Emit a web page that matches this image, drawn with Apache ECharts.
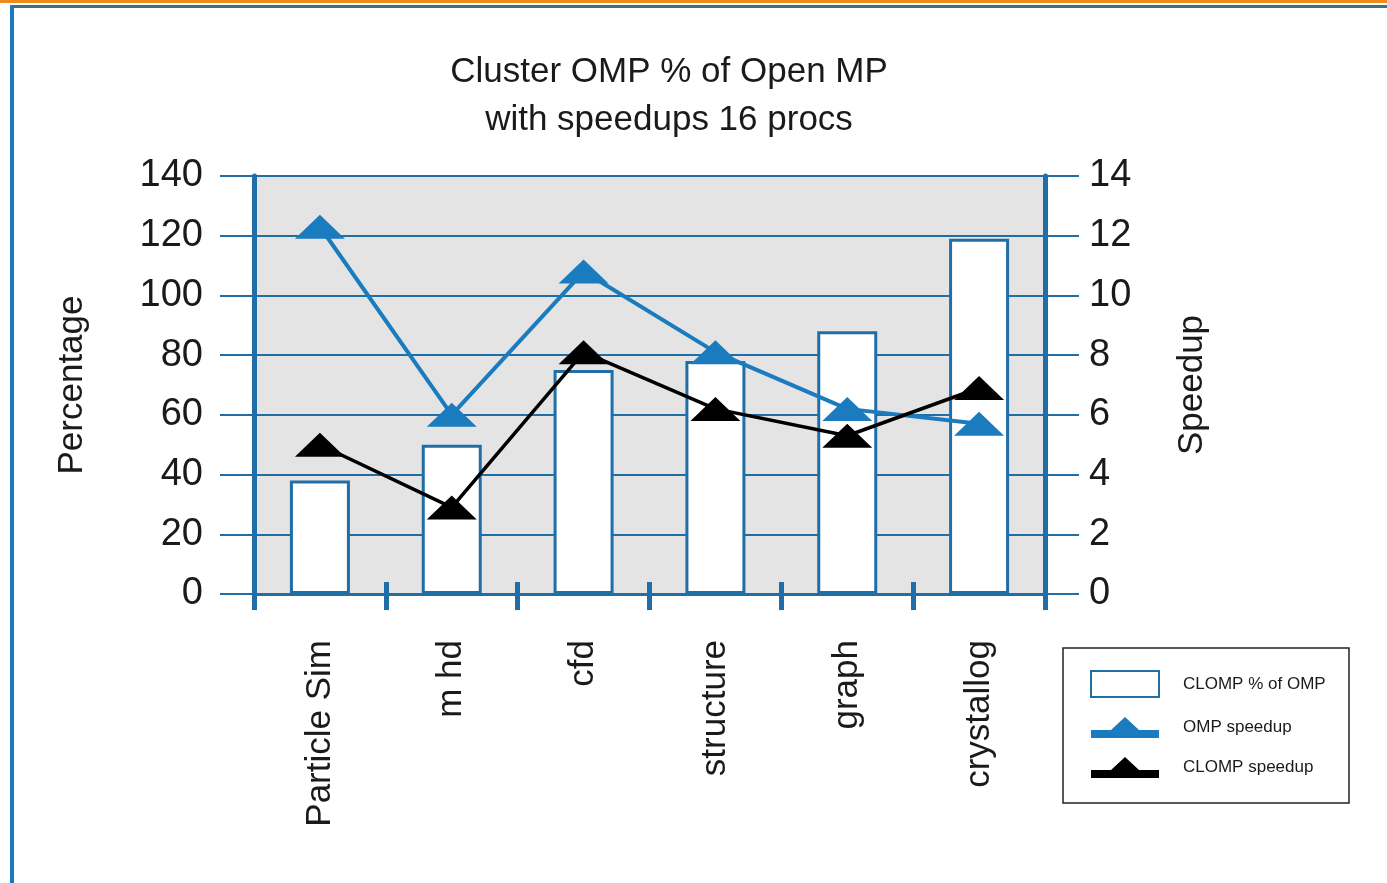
<!DOCTYPE html>
<html>
<head>
<meta charset="utf-8">
<script src="https://cdn.jsdelivr.net/npm/echarts@6/dist/echarts.min.js"></script>
<style>
  html, body { margin: 0; padding: 0; background: #fff; }
  #chart { width: 1387px; height: 883px; }
</style>
</head>
<body>
<div id="chart"></div>
<script>
const categories = ["Particle Sim", "m hd", "cfd", "structure", "graph", "crystallog"];
const clompPctOfOmp = [38, 50, 75, 78, 88, 119];
const ompSpeedup = [12.3, 6.0, 10.8, 8.1, 6.2, 5.7];
const clompSpeedup = [5.0, 2.9, 8.1, 6.2, 5.3, 6.9];
const seriesNames = ["CLOMP % of OMP", "OMP speedup", "CLOMP speedup"];

const axisBlue = "#1f6fa6";
const lineBlue = "#1a7bbf";
const textColor = "#1a1a1a";
const fontFamily = "'Liberation Sans', Arial, sans-serif";
// thick line with a triangle on it, for the legend
const lineIcon = "path://M0,13 L20,13 L34,0 L48,13 L68,13 L68,21 L0,21 Z";

const chart = echarts.init(document.getElementById("chart"));

const options = {
  animation: false,
  textStyle: { fontFamily: fontFamily, color: textColor },
  title: {
    text: "Cluster OMP % of Open MP\nwith speedups 16 procs",
    left: 664,
    textAlign: "center",
    top: 43,
    textStyle: {
      fontSize: 35,
      fontWeight: "normal",
      lineHeight: 48,
      color: textColor,
      fontFamily: fontFamily,
    },
  },
  graphic: [
    // frame decoration
    { type: "rect", shape: { x: 0, y: 0, width: 1387, height: 3 }, style: { fill: "#ef8a1e" } },
    { type: "rect", shape: { x: 10, y: 5, width: 1377, height: 3 }, style: { fill: "#3d7182" } },
    { type: "rect", shape: { x: 10, y: 5, width: 4, height: 878 }, style: { fill: "#1a7abf" } },
    // legend box
    {
      type: "rect",
      shape: { x: 1063, y: 648, width: 286, height: 155 },
      style: { fill: "#fff", stroke: "#222", lineWidth: 1.5 },
      z: -1,
    },
  ],
  legend: {
    orient: "vertical",
    left: 1090,
    top: 670,
    padding: 0,
    itemWidth: 68,
    itemHeight: 26,
    itemGap: 19,
    textStyle: { fontSize: 17, color: textColor, padding: [0, 0, 0, 19] },
    data: [
      { name: seriesNames[0], icon: "rect" },
      { name: seriesNames[1], icon: lineIcon, itemStyle: { color: lineBlue, borderWidth: 0 } },
      { name: seriesNames[2], icon: lineIcon, itemStyle: { color: "#000", borderWidth: 0 } },
    ],
  },
  grid: {
    left: 254,
    right: 342,
    top: 176,
    bottom: 289,
    show: true,
    backgroundColor: "#e4e4e4",
    borderWidth: 0,
  },
  xAxis: [
    {
      type: "category",
      data: categories,
      position: "bottom",
      axisLine: { lineStyle: { color: axisBlue, width: 3 } },
      axisTick: { show: true, length: 16, lineStyle: { color: axisBlue, width: 5 } },
      axisLabel: { rotate: 90, fontSize: 35, margin: 46, color: textColor, interval: 0 },
    },
    {
      // inner half of the crossing ticks
      type: "category",
      data: categories,
      position: "bottom",
      axisLine: { show: false },
      axisTick: { show: true, inside: true, length: 12, lineStyle: { color: axisBlue, width: 5 } },
      axisLabel: { show: false },
    },
  ],
  yAxis: [
    {
      type: "value",
      min: 0,
      max: 140,
      interval: 20,
      name: "Percentage",
      nameLocation: "middle",
      nameGap: 164,
      nameRotate: 90,
      nameTextStyle: { fontSize: 35, color: textColor },
      axisLine: { show: true, lineStyle: { color: axisBlue, width: 5 } },
      axisTick: { show: true, length: 34, lineStyle: { color: axisBlue, width: 2 } },
      axisLabel: { fontSize: 38, margin: 51, color: textColor },
      splitLine: { show: true, lineStyle: { color: axisBlue, width: 2 } },
    },
    {
      type: "value",
      min: 0,
      max: 14,
      interval: 2,
      position: "right",
      name: "Speedup",
      nameLocation: "middle",
      nameGap: 130,
      nameRotate: 90,
      nameTextStyle: { fontSize: 35, color: textColor },
      axisLine: { show: true, lineStyle: { color: axisBlue, width: 5 } },
      axisTick: { show: true, length: 34, lineStyle: { color: axisBlue, width: 2 } },
      axisLabel: { fontSize: 38, margin: 44, color: textColor },
      splitLine: { show: false },
    },
  ],
  series: [
    {
      name: seriesNames[0],
      type: "bar",
      data: clompPctOfOmp,
      barWidth: 60,
      itemStyle: { color: "#ffffff", borderColor: axisBlue, borderWidth: 3 },
    },
    {
      name: seriesNames[1],
      type: "line",
      yAxisIndex: 1,
      data: ompSpeedup,
      symbol: "triangle",
      symbolSize: [50, 24],
      color: lineBlue,
      itemStyle: { color: lineBlue },
      lineStyle: { color: lineBlue, width: 4 },
      z: 3,
    },
    {
      name: seriesNames[2],
      type: "line",
      yAxisIndex: 1,
      data: clompSpeedup,
      symbol: "triangle",
      symbolSize: [50, 24],
      color: "#000000",
      itemStyle: { color: "#000000" },
      lineStyle: { color: "#000000", width: 3.5 },
      z: 4,
    },
  ],
};

chart.setOption(options);
</script>
</body>
</html>
